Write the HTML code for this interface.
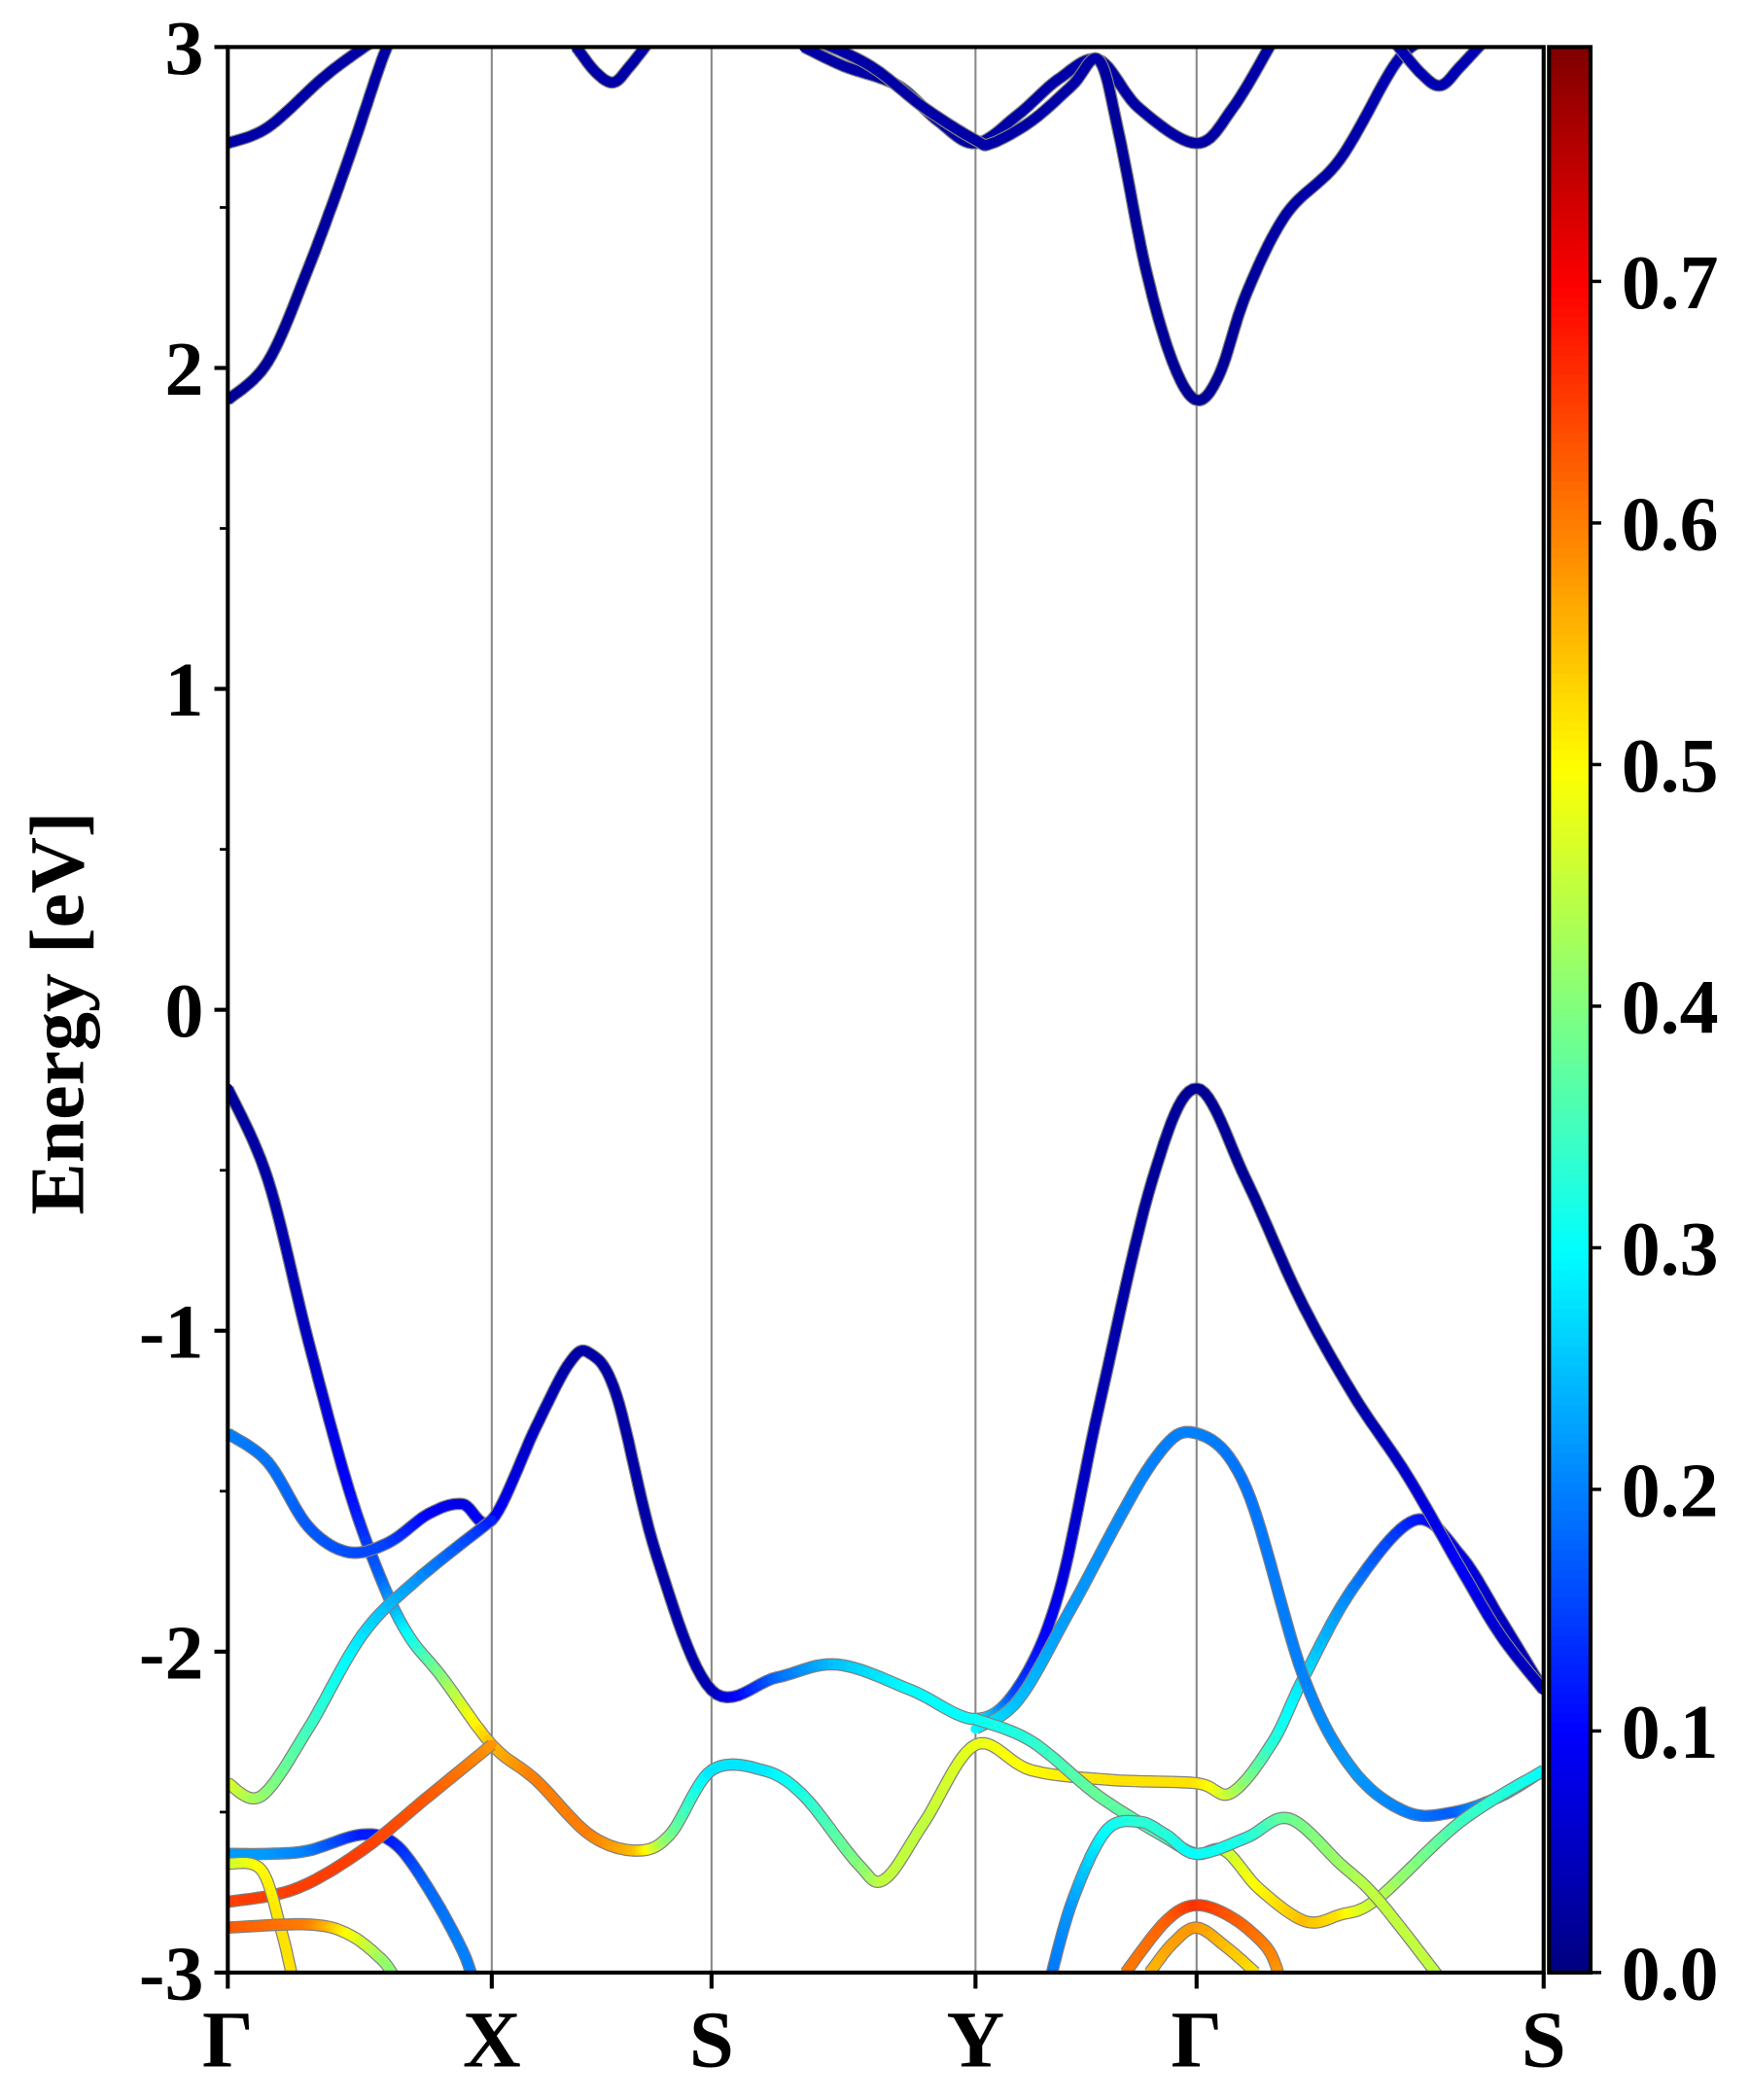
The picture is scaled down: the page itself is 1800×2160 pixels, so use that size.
<!DOCTYPE html>
<html><head><meta charset="utf-8"><style>
html,body{margin:0;padding:0;background:#fff}
svg{display:block}
text{font-family:"Liberation Serif",serif;font-weight:bold;fill:#000}
</style></head><body>
<svg id="chart" width="1800" height="2160" viewBox="0 0 1306 1567" xmlns="http://www.w3.org/2000/svg">
<defs><clipPath id="plotclip"><rect x="170" y="35" width="982" height="1437"/></clipPath></defs>
<g id="kgrid"></g>
<g id="bands" clip-path="url(#plotclip)"></g>
<rect x="170" y="35" width="982" height="1437" fill="none" stroke="#000" stroke-width="3"/>
<g id="yaxis"></g>
<g id="xaxis"></g>
<text transform="translate(62,756) rotate(-90)" text-anchor="middle" font-size="58">Energy [eV]</text>
<g id="cbar"></g>
</svg>
<script>
const kLabels=["Γ","X","S","Y","Γ","S"];
const kPositions=[0,197,361,558,723,982];
const yTicks=[-3,-2,-1,0,1,2,3];
const cbTicks=[0.0,0.1,0.2,0.3,0.4,0.5,0.6,0.7];
const cbMax=0.797;
const bandC1=[[0,2.70,.03],[30,2.75,.03],[70,2.90,.03],[95,2.98,.03],[120,3.05,.03]];
const bandC2=[[0,1.90,.02],[30,2.02,.02],[60,2.31,.02],[90,2.65,.03],[115,2.96,.03],[125,3.05,.03]];
const bandC3=[[260,3.0,.03],[275,2.92,.03],[288,2.89,.03],[300,2.94,.03],[315,3.02,.03]];
const bandC4=[[430,3.0,.03],[460,2.94,.03],[500,2.88,.03],[530,2.77,.03],[558,2.70,.03],[590,2.79,.03],[620,2.90,.03],[650,2.96,.03],[680,2.81,.03],[723,2.70,.03],[750,2.81,.03],[780,3.02,.03]];
const bandC5=[[440,3.02,.03],[480,2.94,.03],[520,2.81,.03],[558,2.71,.03],[570,2.70,.03],[600,2.77,.03],[630,2.88,.03],[650,2.96,.03],[665,2.73,.02],[685,2.31,.02],[705,2.02,.02],[723,1.90,.02],[740,1.98,.02],[760,2.23,.02],[790,2.48,.03],[830,2.65,.03],[870,2.94,.04],[890,3.02,.04]];
const bandC6=[[870,3.02,.04],[890,2.92,.04],[905,2.88,.04],[920,2.94,.04],[940,3.03,.04]];
const bandV1=[[0,-0.245,.02],[30,-0.53,.03],[60,-1.03,.05],[90,-1.49,.1],[115,-1.78,.18],[135,-1.95,.3],[160,-2.08,.4],[197,-2.29,.55],[230,-2.40,.6],[270,-2.57,.6],[305,-2.62,.55],[330,-2.57,.4],[361,-2.37,.28],[400,-2.37,.28],[430,-2.45,.32],[470,-2.66,.4],[490,-2.71,.45],[520,-2.53,.45],[558,-2.29,.48],[600,-2.37,.5],[660,-2.40,.52],[723,-2.41,.52],[749,-2.44,.45],[780,-2.28,.33],[803,-2.08,.28],[840,-1.80,.2],[886,-1.59,.12],[920,-1.70,.08],[950,-1.90,.05],[982,-2.12,.04]];
const bandV2=[[0,-1.32,.2],[30,-1.41,.19],[60,-1.61,.17],[90,-1.69,.16],[120,-1.66,.15],[150,-1.57,.1],[175,-1.54,.08],[197,-1.59,.1],[230,-1.30,.05],[255,-1.10,.03],[270,-1.07,.03],[290,-1.20,.03],[320,-1.70,.03],[361,-2.12,.04],[410,-2.08,.18],[455,-2.04,.25],[510,-2.12,.3],[558,-2.21,.3],[590,-2.11,.15],[620,-1.82,.08],[650,-1.24,.04],[690,-0.53,.02],[723,-0.245,.02],[760,-0.53,.02],[800,-0.90,.02],[840,-1.20,.03],[880,-1.45,.06],[920,-1.74,.1],[950,-1.95,.06],[982,-2.12,.04]];
const bandV3=[[0,-2.41,.48],[25,-2.45,.42],[60,-2.24,.35],[100,-1.95,.28],[140,-1.78,.22],[197,-1.59,.12]];
const bandV4=[[558,-2.24,.3],[590,-2.15,.25],[630,-1.86,.22],[690,-1.41,.2],[723,-1.32,.2],[760,-1.49,.19],[803,-2.08,.2],[840,-2.37,.22],[880,-2.50,.2],[915,-2.50,.17],[950,-2.45,.25],[982,-2.37,.28]];
const bandV5=[[558,-2.21,.3],[600,-2.28,.33],[650,-2.45,.38],[700,-2.58,.35],[723,-2.63,.32],[744,-2.62,.45],[770,-2.74,.5],[804,-2.84,.55],[830,-2.82,.52],[858,-2.77,.45],[920,-2.53,.35],[982,-2.37,.3]];
const bandV6=[[612,-3.05,.18],[630,-2.78,.22],[655,-2.56,.3],[680,-2.53,.33],[700,-2.57,.33],[723,-2.63,.3],[760,-2.58,.32],[792,-2.52,.38],[830,-2.66,.42],[858,-2.77,.45],[905,-3.02,.45]];
const bandV7=[[0,-2.63,.22],[30,-2.63,.22],[60,-2.62,.2],[100,-2.57,.12],[125,-2.60,.12],[150,-2.74,.18],[175,-2.93,.2],[185,-3.05,.2]];
const bandV8=[[0,-2.78,.65],[50,-2.74,.65],[100,-2.62,.65],[150,-2.45,.63],[197,-2.29,.58]];
const bandV9=[[0,-2.66,.45],[25,-2.68,.5],[40,-2.87,.52],[50,-3.05,.52]];
const bandV10=[[0,-2.86,.63],[60,-2.85,.6],[90,-2.88,.5],[115,-2.96,.42],[125,-3.02,.4]];
const bandV11=[[670,-3.0,.6],[700,-2.84,.62],[723,-2.79,.66],[750,-2.83,.63],[775,-2.92,.6],[784,-3.0,.58]];
const bandV12=[[688,-3.0,.55],[705,-2.91,.57],[723,-2.86,.58],[745,-2.92,.55],[767,-3.0,.52]];
const allBands=[bandC1,bandC2,bandC3,bandC4,bandC5,bandC6,bandV1,bandV2,bandV3,bandV4,bandV5,bandV6,bandV7,bandV8,bandV9,bandV10,bandV11,bandV12];

const NS="http://www.w3.org/2000/svg";
const X0=170,X1=1152,Y0=35,Y1=1472,KMAX=982,EMIN=-3,EMAX=3;
const xs=k=>X0+(k/KMAX)*(X1-X0);
const ys=e=>Y1-(e-EMIN)/(EMAX-EMIN)*(Y1-Y0);
function jet(v){v=Math.max(0,Math.min(1,v));
 const c=t=>Math.round(255*Math.max(0,Math.min(1,1.5-Math.abs(4*v-t))));
 return `rgb(${c(3)},${c(2)},${c(1)})`;}
function mk(tag,attrs,parent){const el=document.createElementNS(NS,tag);for(const a in attrs)el.setAttribute(a,attrs[a]);parent.appendChild(el);return el;}

const kgrid=document.getElementById('kgrid');
kPositions.slice(1,-1).forEach(k=>{
 const l=mk('line',{x1:xs(k),x2:xs(k),y1:Y0,y2:Y1,stroke:'#888','stroke-width':1.5},kgrid);
 
 
});

const bandsG=document.getElementById('bands');
allBands.forEach((b,bi)=>{
 const pts=b.map(p=>[xs(p[0]),ys(p[1]),p[2]]);
 const s=[];
 for(let i=0;i<pts.length-1;i++){
  const p0=pts[Math.max(0,i-1)],p1=pts[i],p2=pts[i+1],p3=pts[Math.min(pts.length-1,i+2)];
  for(let j=0;j<12;j++){const t=j/12,t2=t*t,t3=t2*t;
   const f=(a,b,c,d)=>0.5*(2*b+(-a+c)*t+(2*a-5*b+4*c-d)*t2+(-a+3*b-3*c+d)*t3);
   s.push([f(p0[0],p1[0],p2[0],p3[0]),f(p0[1],p1[1],p2[1],p3[1]),p1[2]+(p2[2]-p1[2])*t]);}
 }
 const last=pts[pts.length-1];s.push(last);
 const g=mk('g',{},bandsG);
 
 
 mk('polyline',{points:s.map(p=>p[0].toFixed(1)+','+p[1].toFixed(1)).join(' '),fill:'none',stroke:'#808080','stroke-width':9.2,'stroke-linejoin':'round'},g);
 for(let i=0;i<s.length-1;i++){
  mk('line',{x1:s[i][0].toFixed(1),y1:s[i][1].toFixed(1),x2:s[i+1][0].toFixed(1),y2:s[i+1][1].toFixed(1),stroke:jet((s[i][2]+s[i+1][2])/2/cbMax),'stroke-width':7.4,'stroke-linecap':'round'},g);
 }
});

const yax=document.getElementById('yaxis');
yTicks.forEach(v=>{
 const y=ys(v);
 const t=mk('line',{x1:X0-10,x2:X0,y1:y,y2:y,stroke:'#000','stroke-width':3},yax);
 
 
 const tx=mk('text',{x:X0-18,y:y+20,'text-anchor':'end','font-size':58},yax);
 
 
 tx.textContent=String(v);
 if(v<EMAX){const m=ys(v+0.5);
  const mt=mk('line',{x1:X0-6,x2:X0,y1:m,y2:m,stroke:'#000','stroke-width':2},yax);
  
  }
});
const xax=document.getElementById('xaxis');
kPositions.forEach((k,i)=>{
 const x=xs(k);
 const t=mk('line',{x1:x,x2:x,y1:Y1,y2:Y1+12,stroke:'#000','stroke-width':3},xax);
 
 
 const tx=mk('text',{x:x,y:1542,'text-anchor':'middle','font-size':60},xax);
 
 
 tx.textContent=kLabels[i];
});

const cb=document.getElementById('cbar');
const CX0=1156,CX1=1187;
const cy=v=>Y1-(v/cbMax)*(Y1-Y0);
for(let i=0;i<200;i++){const v0=cbMax*i/200,v1=cbMax*(i+1)/200;
 mk('rect',{x:CX0,y:cy(v1)-0.5,width:CX1-CX0,height:cy(v0)-cy(v1)+1,fill:jet((v0+v1)/2/cbMax)},cb);}
mk('rect',{x:CX0,y:Y0,width:CX1-CX0,height:Y1-Y0,fill:'none',stroke:'#000','stroke-width':3},cb);
cbTicks.forEach(v=>{
 const y=cy(v);
 const t=mk('line',{x1:CX1,x2:CX1+8,y1:y,y2:y,stroke:'#000','stroke-width':2.5},cb);
 
 
 const tx=mk('text',{x:1210,y:y+20,'font-size':58},cb);
 
 
 tx.textContent=v.toFixed(1);
});
</script>
</body></html>
